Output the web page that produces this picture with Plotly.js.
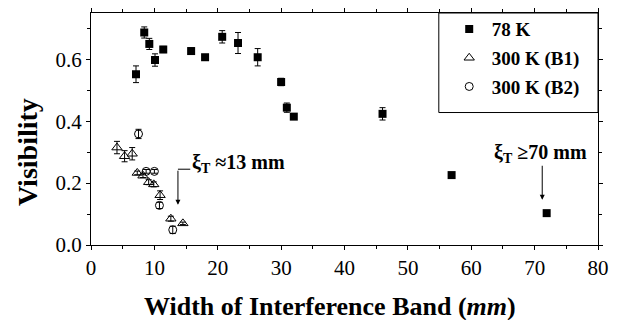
<!DOCTYPE html>
<html><head><meta charset="utf-8">
<script src="https://cdn.plot.ly/plotly-3.0.1.min.js"></script>
<style>body{margin:0;background:#fff}#c{width:618px;height:320px}</style>
</head><body><div id="c"></div>
<script>
// 78 K
const x78 = [7.1, 8.4, 9.2, 10.1, 11.4, 15.8, 18.0, 20.7, 23.2, 26.3, 30.0, 30.9, 32.0, 46.0, 56.9, 71.9];
const y78 = [0.552, 0.687, 0.650, 0.598, 0.632, 0.627, 0.607, 0.673, 0.653, 0.607, 0.527, 0.444, 0.415, 0.424, 0.226, 0.103];
const e78 = [0.027, 0.018, 0.018, 0.020, 0.010, 0.010, 0.008, 0.020, 0.034, 0.028, 0.012, 0.015, 0.008, 0.020, 0.006, 0.006];
// 300 K (B1)
const xB1 = [4.1, 5.3, 6.5, 7.3, 8.2, 9.1, 9.9, 10.9, 12.6, 14.5];
const yB1 = [0.315, 0.287, 0.295, 0.233, 0.224, 0.203, 0.196, 0.161, 0.085, 0.070];
const eB1 = [0.020, 0.018, 0.020, 0.006, 0.006, 0.008, 0.008, 0.014, 0.008, 0.004];
// 300 K (B2)
const xB2 = [7.5, 8.7, 10.0, 10.8, 12.9];
const yB2 = [0.359, 0.238, 0.238, 0.128, 0.049];
const eB2 = [0.015, 0.006, 0.006, 0.010, 0.012];
const names = ['<b>78 K</b>', '<b>300 K (B1)</b>', '<b>300 K (B2)</b>'];
const xTitle = '<b>Width of Interference Band (<i>mm</i>)</b>';
const yTitle = '<b>Visibility</b>';

const F = 'Liberation Serif';
const eb = arr => ({type:'data', array:arr, visible:true, color:'#000', thickness:1, width:3});
const traces = [
  {x:x78, y:y78, error_y:eb(e78), mode:'markers', type:'scatter', name:names[0], legendgroup:'a',
   marker:{symbol:'square', size:8, color:'#000'}},
  {x:xB1, y:yB1, error_y:eb(eB1), mode:'markers', type:'scatter', name:names[1], legendgroup:'b',
   marker:{symbol:'triangle-up-open', size:9, color:'#000', line:{width:1}}},
  {x:xB2, y:yB2, error_y:eb(eB2), mode:'markers', type:'scatter', name:names[2], legendgroup:'c',
   marker:{symbol:'circle-open', size:8, color:'#000', line:{width:1}}}
];
const axcommon = () => ({showline:true, linecolor:'#000', linewidth:1, mirror:'ticks', ticks:'outside', ticklen:4,
  tickcolor:'#000', showgrid:false, zeroline:false, tickfont:{family:F, size:21, color:'#000'}});
const layout = {
  width:618, height:320, margin:{l:91, r:20, t:10, b:75},
  paper_bgcolor:'#fff', plot_bgcolor:'#fff', font:{family:F, color:'#000'},
  xaxis: Object.assign(axcommon(), {range:[0,80], dtick:10, tick0:0,
    minor:{dtick:5, ticks:'outside', ticklen:3, tickcolor:'#000'}}),
  yaxis: Object.assign(axcommon(), {range:[0,0.75], dtick:0.2, tick0:0, tickformat:'.1f',
    minor:{dtick:0.1, ticks:'outside', ticklen:3, tickcolor:'#000'}}),
  showlegend:true,
  legend:{x:0.7016, xanchor:'left', y:1.012, yanchor:'top', bgcolor:'rgba(0,0,0,0)', borderwidth:0,
    font:{family:F, size:19, color:'#000'}, traceorder:'grouped', tracegroupgap:1, itemwidth:35},
  shapes:[
    {type:'rect', xref:'paper', yref:'paper', x0:0.686, x1:1, y0:0.571, y1:1, line:{color:'#000', width:1}},
    {type:'line', xref:'x', yref:'y', x0:13.72, x1:15.66, y0:0.245, y1:0.245, line:{color:'#000', width:1}}
  ],
  annotations:[
    {x:0.472, y:-0.264, xref:'paper', yref:'paper', xanchor:'center', yanchor:'middle', showarrow:false,
     text:xTitle, font:{family:F, size:26, color:'#000'}},
    {x:-0.1265, y:0.40, xref:'paper', yref:'paper', xanchor:'center', yanchor:'middle', showarrow:false,
     textangle:-90, text:yTitle, font:{family:F, size:28, color:'#000'}},
    {x:13.72, y:0.13, ax:13.72, ay:0.245, axref:'x', ayref:'y', xref:'x', yref:'y', text:'', showarrow:true,
     arrowhead:2, arrowsize:1, arrowwidth:1, arrowcolor:'#000'},
    {x:15.6, y:0.262, xref:'x', yref:'y', xanchor:'left', yanchor:'middle', showarrow:false,
     text:'<b>ξ<sub>T</sub> ≈13 mm</b>', font:{family:F, size:20, color:'#000'}},
    {x:71.2, y:0.146, ax:71.2, ay:0.261, axref:'x', ayref:'y', xref:'x', yref:'y', text:'', showarrow:true,
     arrowhead:2, arrowsize:1, arrowwidth:1, arrowcolor:'#000'},
    {x:70.9, y:0.296, xref:'x', yref:'y', xanchor:'center', yanchor:'middle', showarrow:false,
     text:'<b>ξ<sub>T</sub> ≥70 mm</b>', font:{family:F, size:20, color:'#000'}}
  ]
};
Plotly.newPlot('c', traces, layout, {displayModeBar:false, staticPlot:true});
</script></body></html>
